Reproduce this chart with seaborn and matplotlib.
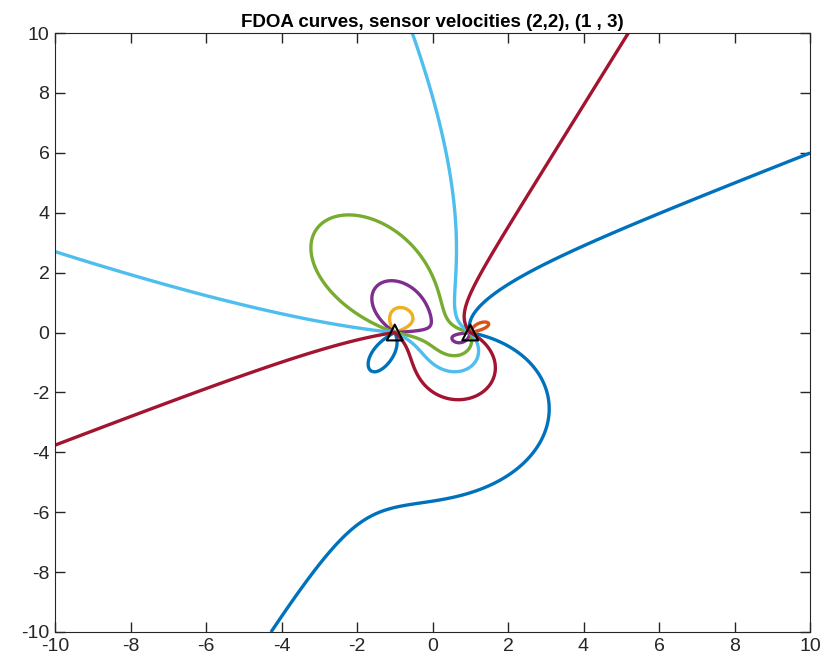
import numpy as np
import pandas as pd
import matplotlib
matplotlib.use("Agg")
import matplotlib.pyplot as plt
import seaborn as sns

# Sensor geometry and velocities
sensor_x = [-1.0, 1.0]
sensor_y = [0.0, 0.0]
vel_x = [1.0, 2.0]
vel_y = [3.0, 2.0]

# FDOA contour levels (one curve per colour, MATLAB default colour order)
levels = [-0.46, -1.40, 4.13, 3.21, 2.29, 1.37, 0.46]
colors = ["#0072BD", "#D95319", "#EDB120", "#7E2F8E", "#77AC30", "#4DBEEE", "#A2142F"]

title = "FDOA curves, sensor velocities (2,2), (1 , 3)"
ticks = [-10, -8, -6, -4, -2, 0, 2, 4, 6, 8, 10]

sns.set_theme(style="ticks")
plt.rcParams["font.family"] = ["Liberation Sans", "DejaVu Sans"]
plt.rcParams["axes.unicode_minus"] = False
plt.rcParams["xtick.top"] = True
plt.rcParams["xtick.bottom"] = True
plt.rcParams["ytick.right"] = True
plt.rcParams["ytick.left"] = True
plt.rcParams["xtick.direction"] = "in"
plt.rcParams["ytick.direction"] = "in"
plt.rcParams["xtick.major.size"] = 7
plt.rcParams["ytick.major.size"] = 7

fig = plt.figure(figsize=(8.4, 6.58), dpi=100)
ax = fig.add_axes([55 / 840, 1 - 632 / 658, 755 / 840, 599 / 658])

n = 1601
g = np.linspace(-10.0037, 10.0041, n)
X, Y = np.meshgrid(g, g)


def proj(i):
    dx = X - sensor_x[i]
    dy = Y - sensor_y[i]
    r = np.hypot(dx, dy)
    return (vel_x[i] * dx + vel_y[i] * dy) / r


F = proj(0) - proj(1)

for lev, col in zip(levels, colors):
    ax.contour(X, Y, F, levels=[lev], colors=[col], linewidths=2.4,
               linestyles="solid")

sdf = pd.DataFrame({"x": sensor_x, "y": sensor_y})
sns.scatterplot(data=sdf, x="x", y="y", marker="^", s=130, facecolor="none",
                edgecolor="black", linewidth=1.5, ax=ax, zorder=5)

ax.set_xlim(-10, 10)
ax.set_ylim(-10, 10)
ax.set_xticks(ticks)
ax.set_yticks(ticks)
ax.set_xlabel("")
ax.set_ylabel("")
ax.tick_params(axis="both", which="major", direction="in", length=7, width=1.0,
               color="#262626", labelsize=14, labelcolor="#262626", pad=4,
               top=True, right=True, bottom=True, left=True,
               labeltop=False, labelright=False)
for s in ax.spines.values():
    s.set_visible(True)
    s.set_color("#262626")
    s.set_linewidth(0.8)
ax.set_title(title, fontsize=13.5, fontweight="bold", color="black", pad=4)

fig.savefig("out.png", dpi=100)
